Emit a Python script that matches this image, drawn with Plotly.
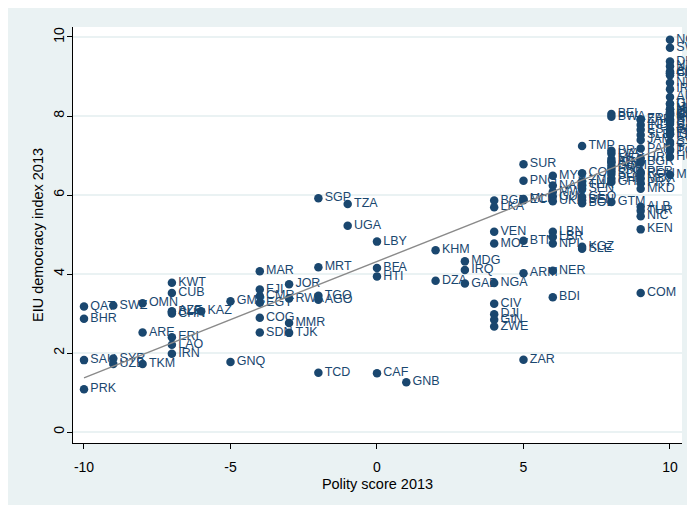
import numpy as np
import plotly.graph_objects as go

# ---------------- data ----------------
codes = [
    "QAT", "BHR", "SAU", "PRK",
    "SWZ", "SYR", "UZB",
    "OMN", "ARE", "TKM",
    "KWT", "CUB", "AZE", "BLR", "CHN", "ERI", "LAO", "IRN",
    "KAZ",
    "GMB", "GNQ",
    "MAR", "FJI", "CMR", "EGY", "COG", "SDN",
    "JOR", "RWA", "MMR", "TJK",
    "SGP", "MRT", "TGO", "AGO", "TCD",
    "TZA", "UGA",
    "LBY", "BFA", "HTI", "CAF",
    "GNB",
    "KHM", "DZA",
    "MDG", "IRQ", "GAB",
    "BGD", "LKA", "VEN", "MOZ", "NGA", "CIV", "DJI", "GIN", "ZWE",
    "SUR", "PNG", "ECU", "MLI", "BTN", "ARM", "ZAR",
    "MYS", "NAM", "MWI", "GUY", "UKR", "LBN", "LBR", "NPL", "NER", "BDI",
    "TMP", "COL", "ZMB", "THA", "SEN", "GEO", "BEN", "BOL", "KGZ", "SLE",
    "BEL", "BWA", "BRA", "LVA", "MEX", "ARG", "IDN", "DOM", "SRB", "LSO",
    "SLV", "PHL", "GHA", "GTM",
    "FRA", "ZAF", "IND", "EST", "SLB", "JAM", "PAN", "HRV", "BGR", "PER",
    "ROU", "MDA", "PRY", "MKD", "ALB", "TUR", "NIC", "KEN", "COM",
    "NOR", "SWE", "DNK", "NZL", "AUS", "CHE", "CAN", "FIN", "NLD", "IRL",
    "AUT", "DEU", "GBR", "MUS", "URY", "USA", "JPN", "CZE", "KOR", "CRI",
    "ESP", "CPV", "SVN", "ITA", "CHL", "GRC", "PRT", "TWN", "LTU", "ISR",
    "SVK", "CYP", "TTO", "POL", "HUN", "MNG",
]

polity = [
    -10, -10, -10, -10,
    -9, -9, -9,
    -8, -8, -8,
    -7, -7, -7, -7, -7, -7, -7, -7,
    -6,
    -5, -5,
    -4, -4, -4, -4, -4, -4,
    -3, -3, -3, -3,
    -2, -2, -2, -2, -2,
    -1, -1,
    0, 0, 0, 0,
    1,
    2, 2,
    3, 3, 3,
    4, 4, 4, 4, 4, 4, 4, 4, 4,
    5, 5, 5, 5, 5, 5, 5,
    6, 6, 6, 6, 6, 6, 6, 6, 6, 6,
    7, 7, 7, 7, 7, 7, 7, 7, 7, 7,
    8, 8, 8, 8, 8, 8, 8, 8, 8, 8,
    8, 8, 8, 8,
    9, 9, 9, 9, 9, 9, 9, 9, 9, 9,
    9, 9, 9, 9, 9, 9, 9, 9, 9,
    10, 10, 10, 10, 10, 10, 10, 10, 10, 10,
    10, 10, 10, 10, 10, 10, 10, 10, 10, 10,
    10, 10, 10, 10, 10, 10, 10, 10, 10, 10,
    10, 10, 10, 10, 10, 10,
]

eiu = [
    3.18, 2.87, 1.82, 1.08,
    3.20, 1.86, 1.72,
    3.26, 2.52, 1.72,
    3.78, 3.52, 3.06, 3.04, 3.00, 2.40, 2.21, 1.98,
    3.06,
    3.31, 1.77,
    4.07, 3.61, 3.44, 3.27, 2.89, 2.52,
    3.74, 3.38, 2.76, 2.51,
    5.92, 4.17, 3.45, 3.35, 1.50,
    5.77, 5.22,
    4.82, 4.15, 3.94, 1.49,
    1.26,
    4.60, 3.83,
    4.32, 4.10, 3.76,
    5.86, 5.69, 5.07, 4.77, 3.77, 3.25, 2.98, 2.84, 2.67,
    6.78, 6.36, 5.87, 5.90, 4.84, 4.02, 1.83,
    6.49, 6.24, 6.08, 5.96, 5.84, 5.07, 4.94, 4.77, 4.08, 3.41,
    7.24, 6.55, 6.35, 6.25, 6.15, 5.95, 5.87, 5.79, 4.69, 4.64,
    8.05, 7.98, 7.12, 7.05, 6.91, 6.84, 6.82, 6.74, 6.67, 6.60,
    6.53, 6.41, 6.33, 5.82,
    7.92, 7.90, 7.77, 7.65, 7.52, 7.39, 7.18, 6.93, 6.83, 6.58,
    6.54, 6.42, 6.30, 6.16, 5.70, 5.60, 5.46, 5.13, 3.52,
    9.93, 9.73, 9.38, 9.26, 9.13, 9.09, 9.08, 9.03, 8.84, 8.68,
    8.48, 8.31, 8.31, 8.17, 8.17, 8.11, 8.08, 8.06, 8.06, 8.03,
    8.02, 7.92, 7.88, 7.85, 7.80, 7.65, 7.65, 7.57, 7.54, 7.53,
    7.35, 7.29, 7.16, 7.12, 6.96, 6.51,
]

x_ticks = [-10, -5, 0, 5, 10]
y_ticks = [0, 2, 4, 6, 8, 10]

# ---------------- styles ----------------
NAVY = "#1a476f"
BG = "#eaf2f3"
FONT = "Liberation Sans, Arial, sans-serif"

# linear fit from the data
slope, intercept = np.polyfit(polity, eiu, 1)
fit_x = np.array([min(polity), max(polity)], dtype=float)
fit_y = intercept + slope * fit_x

fig = go.Figure()

fig.add_trace(go.Scatter(
    x=polity, y=eiu, mode="markers+text", text=codes,
    textposition="middle right",
    textfont=dict(family=FONT, size=12.5, color=NAVY),
    marker=dict(color=NAVY, size=8.5, line=dict(width=0)),
    cliponaxis=False, hoverinfo="skip", showlegend=False,
))

fig.add_trace(go.Scatter(
    x=fit_x, y=fit_y, mode="lines",
    line=dict(color="#8a8a8a", width=1.4),
    hoverinfo="skip", showlegend=False,
))

# the page body adds an 8px offset, so the figure is 8px smaller
W, H = 687, 502
ml, mr, mt, mb = 65, 13, 19, 67
pw, ph = W - ml - mr, H - mt - mb

def px_to_paper_x(px):
    return (px - ml) / pw

def py_to_paper_y(py):
    return (H - mb - py) / ph

white_strips = [
    (682, 0, W, H), (0, 497, W, H),
]
shapes = []
for x0, y0, x1, y1 in white_strips:
    shapes.append(dict(
        type="rect", xref="paper", yref="paper", layer="below",
        x0=px_to_paper_x(x0), x1=px_to_paper_x(x1),
        y0=py_to_paper_y(y1), y1=py_to_paper_y(y0),
        fillcolor="white", line=dict(width=0),
    ))

fig.update_layout(
    width=W, height=H,
    margin=dict(l=ml, r=mr, t=mt, b=mb, pad=0, autoexpand=False),
    paper_bgcolor=BG, plot_bgcolor="white",
    font=dict(family=FONT, color="#000000"),
    shapes=shapes,
    xaxis=dict(
        range=[-10.375, 10.41], tickmode="array", tickvals=x_ticks,
        ticktext=[str(v) for v in x_ticks],
        showgrid=False, zeroline=False, automargin=False,
        showline=True, linecolor="#000000", linewidth=1,
        ticks="outside", ticklen=5, tickcolor="#000000", tickwidth=1,
        tickfont=dict(family=FONT, size=14, color="#000000"),
        ticklabelstandoff=6,
        title=dict(text="Polity score 2013", standoff=5,
                   font=dict(family=FONT, size=14.5, color="#000000")),
    ),
    yaxis=dict(
        range=[-0.278, 10.253], tickmode="array", tickvals=y_ticks,
        ticktext=[str(v) for v in y_ticks],
        showgrid=True, gridcolor=BG, gridwidth=1.6,
        zeroline=False, automargin=False,
        showline=True, linecolor="#000000", linewidth=1,
        ticks="outside", ticklen=5, tickcolor="#000000", tickwidth=1,
        tickangle=-90, ticklabelstandoff=-3,
        tickfont=dict(family=FONT, size=14, color="#000000"),
        title=dict(text="EIU democracy index 2013", standoff=4,
                   font=dict(family=FONT, size=14.5, color="#000000")),
    ),
)

fig.write_html("out.html")
